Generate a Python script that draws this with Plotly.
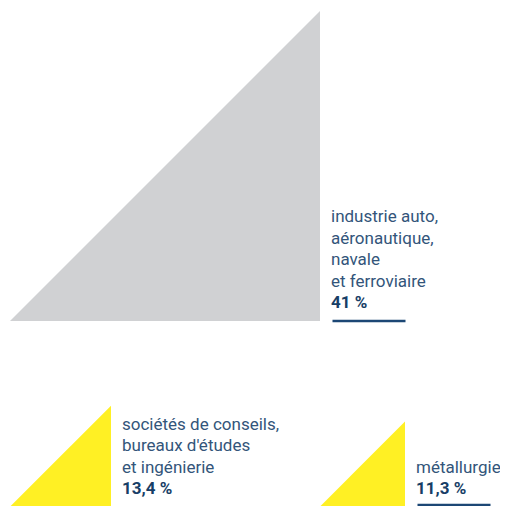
import plotly.graph_objects as go

# ---- data ----
categories = [
    ["industrie auto,", "aéronautique,", "navale", "et ferroviaire"],
    ["sociétés de conseils,", "bureaux d'études", "et ingénierie"],
    ["métallurgie"],
]
values = [41.0, 13.4, 11.3]
value_labels = ["41 %", "13,4 %", "11,3 %"]

# ---- layout / style (pixel space of the browser window) ----
W, H = 508, 506
PAGE_MARGIN = 8          # default body margin of the page
px_per_pct = 310 / 41.0
corners = [(320, 321), (111, 507), (405, 507)]   # right-angle corner of each triangle
fills = ["#d0d1d3", "#fff024", "#fff024"]
underline = [True, False, True]
text_color = "#33557a"
bold_color = "#173e66"
font_family = "Roboto, Open Sans, sans-serif"
font_size = 17
line_h = 21.5
text_dx = 9
value_baseline_up = 14

fig = go.Figure()
annotations = []
for i, v in enumerate(values):
    cx, cy = corners[i]
    s = v * px_per_pct
    xs = [cx - s, cx, cx, cx - s]
    ys = [cy, cy, cy - s, cy]
    fig.add_trace(go.Scatter(x=xs, y=ys, mode="lines", fill="toself",
                             fillcolor=fills[i], line=dict(width=0, color=fills[i]),
                             hoverinfo="skip", showlegend=False))
    lines = categories[i]
    tx = cx + text_dx
    base_val = cy - value_baseline_up
    annotations.append(dict(x=tx, y=base_val - 5, xref="x", yref="y",
                            text="<b>%s</b>" % value_labels[i],
                            showarrow=False, xanchor="left", yanchor="middle",
                            font=dict(family=font_family, size=font_size, color=bold_color)))
    n = len(lines)
    for j, t in enumerate(lines):
        yb = base_val - (n - j) * line_h
        annotations.append(dict(x=tx, y=yb - 5, xref="x", yref="y", text=t,
                                showarrow=False, xanchor="left", yanchor="middle",
                                font=dict(family=font_family, size=font_size, color=text_color)))
    if underline[i]:
        uy = cy if i == 0 else cy - 2
        fig.add_trace(go.Scatter(x=[cx + 12.5, cx + 85.5], y=[uy, uy], mode="lines",
                                 line=dict(color="#1c4775", width=2.5),
                                 hoverinfo="skip", showlegend=False))

fig.update_layout(
    width=W - PAGE_MARGIN, height=H - PAGE_MARGIN,
    margin=dict(l=0, r=0, t=0, b=0),
    paper_bgcolor="white", plot_bgcolor="white",
    xaxis=dict(range=[PAGE_MARGIN, W], visible=False, fixedrange=True),
    yaxis=dict(range=[H, PAGE_MARGIN], visible=False, fixedrange=True),
    annotations=annotations,
)
fig.write_html("out.html")
